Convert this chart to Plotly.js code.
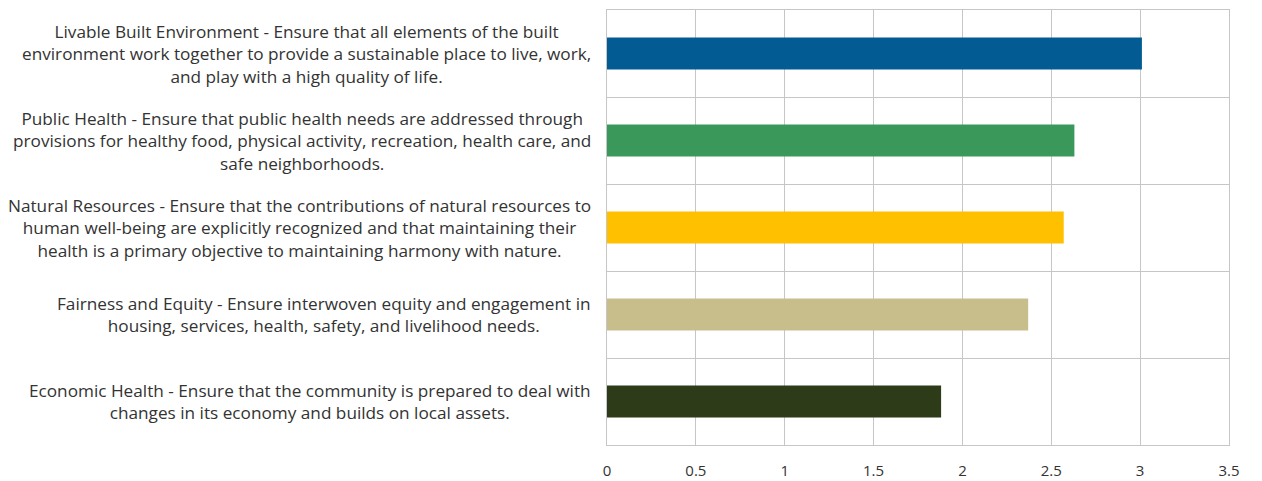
<!DOCTYPE html>
<html>
<head>
<meta charset="utf-8">
<script src="https://cdn.plot.ly/plotly-3.0.1.min.js"></script>
<style>html,body{margin:0;padding:0;background:#fff;}#chart{width:1262px;height:481px;}</style>
</head>
<body>
<div id="chart"></div>
<script>
const categories = [
  "Livable Built Environment - Ensure that all elements of the built<br>environment work together to provide a sustainable place to live, work,<br>and play with a high quality of life.",
  "Public Health - Ensure that public health needs are addressed through<br>provisions for healthy food, physical activity, recreation, health care, and<br>safe neighborhoods.",
  "Natural Resources - Ensure that the contributions of natural resources to<br>human well-being are explicitly recognized and that maintaining their<br>health is a primary objective to maintaining harmony with nature.",
  "Fairness and Equity - Ensure interwoven equity and engagement in<br>housing, services, health, safety, and livelihood needs.",
  "Economic Health - Ensure that the community is prepared to deal with<br>changes in its economy and builds on local assets."
];
const values = [3.01, 2.63, 2.57, 2.37, 1.88];
const barColors = ["#035b94", "#3a995a", "#ffc000", "#c7be8b", "#2e3b18"];
const xTicks = [0, 0.5, 1, 1.5, 2, 2.5, 3, 3.5];

const positions = categories.map((c, i) => i);
const boundaries = [];
for (let i = 0; i <= categories.length; i++) boundaries.push(i - 0.5);

const trace = {
  type: "bar",
  orientation: "h",
  x: values,
  y: positions,
  width: 0.37,
  marker: {color: barColors},
  hoverinfo: "x"
};

const annotations = categories.map((c, i) => ({
  text: c,
  xref: "paper",
  yref: "y",
  x: 0,
  y: i,
  xanchor: "right",
  yanchor: "middle",
  xshift: -14,
  align: "center",
  showarrow: false,
  font: {family: "'Open Sans', sans-serif", size: 17.2, color: "#333333"}
}));

const layout = {
  width: 1262,
  height: 481,
  margin: {l: 607, r: 33, t: 10, b: 36},
  paper_bgcolor: "#ffffff",
  plot_bgcolor: "#ffffff",
  showlegend: false,
  xaxis: {
    range: [0, 3.5],
    tickvals: xTicks,
    ticktext: xTicks.map(String),
    showgrid: true,
    gridcolor: "#c6c6c6",
    gridwidth: 1,
    zeroline: false,
    showline: true,
    linecolor: "#c6c6c6",
    mirror: true,
    ticks: "",
    ticklabelstandoff: 12,
    tickfont: {family: "'Open Sans', sans-serif", size: 15, color: "#333333"},
    fixedrange: true
  },
  yaxis: {
    range: [categories.length - 0.5, -0.5],
    tickvals: boundaries,
    showticklabels: false,
    showgrid: true,
    gridcolor: "#c6c6c6",
    gridwidth: 1,
    zeroline: false,
    showline: true,
    linecolor: "#c6c6c6",
    mirror: true,
    ticks: "",
    fixedrange: true
  },
  annotations: annotations
};

Plotly.newPlot("chart", [trace], layout, {displayModeBar: false, staticPlot: true});
</script>
</body>
</html>
